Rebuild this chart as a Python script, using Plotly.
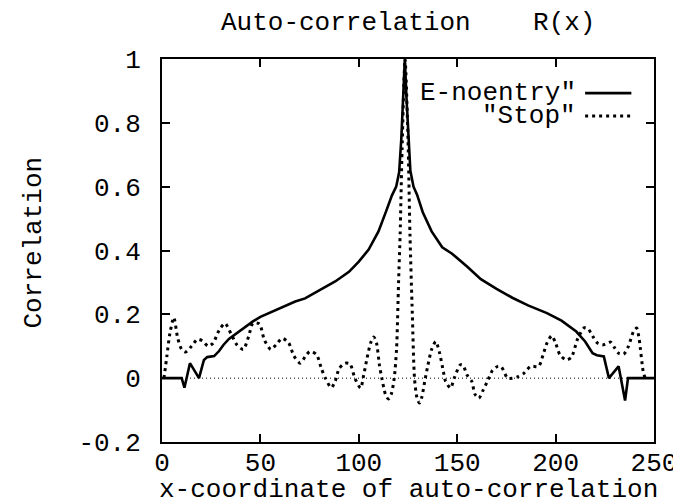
import plotly.graph_objects as go

# ---- data ----
noentry_x = [0, 10, 11.4, 14.2, 18.8, 21.3, 23, 26.5, 29, 31.2, 34, 37.8, 42, 46.2, 50, 54.4, 58,
             62.7, 67.7, 72.7, 80, 88, 95, 100, 105, 110, 114, 116.8, 119, 120.5, 121.6, 122.5,
             123.4, 124.3, 125.2, 126.2, 127.8, 129.6, 132.5, 137, 142.4, 147.4, 155, 162, 170,
             178, 186, 195.6, 203, 210.5, 215, 218.8, 221, 224.5, 227.1, 232, 235.3, 236.8, 250]
noentry_y = [0, 0, -0.03, 0.047, 0.0, 0.057, 0.066, 0.069, 0.085, 0.104, 0.123, 0.141, 0.16, 0.178,
             0.192, 0.204, 0.214, 0.225, 0.24, 0.25, 0.275, 0.303, 0.333, 0.365, 0.403, 0.46, 0.525,
             0.572, 0.6, 0.645, 0.75, 0.87, 1.0, 0.87, 0.75, 0.65, 0.6, 0.575, 0.52, 0.46, 0.41,
             0.39, 0.35, 0.31, 0.28, 0.252, 0.228, 0.204, 0.18, 0.146, 0.115, 0.078, 0.072, 0.068,
             0.0, 0.037, -0.07, 0.0, 0.0]

stop_x = [1, 2.5, 4, 6, 8, 10, 12.1, 15, 18, 20.5, 23.5, 26, 29, 32, 35, 38, 41.3, 44, 46.2, 49.5,
          52, 55.3, 58, 61.1, 64.4, 67, 70.2, 73, 75.2, 78.5, 81, 83, 86, 88, 90, 93, 95.5, 98,
          100.9, 102.5, 104.2, 106, 107.6, 109, 110.5, 111.7, 113.5, 115, 116.5, 118, 119.2,
          120.2, 121, 122, 123.5, 125, 126, 127.2, 128.3, 129.5, 130.8, 132, 133.5, 135, 137,
          139.1, 141, 143, 144.1, 146.6, 148.5, 151.6, 153, 155, 157.4, 159, 161, 163, 165.7,
          168, 170.7, 172.5, 175.6, 178, 181, 184, 187.3, 191.4, 193.5, 195.6, 198, 200, 202.2,
          205.5, 208, 211.3, 214.6, 216.5, 219, 221.3, 223.8, 228, 230, 232, 234.6, 237, 239.5,
          241.2, 242.5, 244.5, 245.5]
stop_y = [0.0, 0.07, 0.14, 0.19, 0.125, 0.09, 0.082, 0.1, 0.122, 0.117, 0.1, 0.11, 0.15, 0.172,
          0.14, 0.105, 0.09, 0.13, 0.172, 0.17, 0.12, 0.09, 0.105, 0.125, 0.11, 0.07, 0.047, 0.07,
          0.084, 0.074, 0.03, 0.0, -0.03, -0.01, 0.03, 0.047, 0.045, 0.0, -0.031, 0.01, 0.063,
          0.11, 0.129, 0.11, 0.04, 0.0, -0.05, -0.065, -0.05, 0.0, 0.094, 0.3, 0.45, 0.72, 1.0,
          0.75, 0.45, 0.2, 0.0, -0.06, -0.078, -0.06, -0.01, 0.037, 0.09, 0.115, 0.08, 0.02,
          -0.01, -0.031, 0.0, 0.042, 0.04, 0.01, -0.01, -0.05, -0.063, -0.04, -0.005, 0.025,
          0.037, 0.035, 0.0, 0.0, 0.005, 0.016, 0.037, 0.037, 0.07, 0.11, 0.133, 0.11, 0.073,
          0.057, 0.065, 0.125, 0.158, 0.155, 0.13, 0.11, 0.104, 0.113, 0.095, 0.078, 0.075, 0.1,
          0.145, 0.157, 0.12, 0.021, 0.0]

x_ticks = [0, 50, 100, 150, 200, 250]
y_ticks = [-0.2, 0, 0.2, 0.4, 0.6, 0.8, 1]
y_tick_text = ["-0.2", "0", "0.2", "0.4", "0.6", "0.8", "1"]
series_names = ['E-noentry"', '"Stop"']

FONT = "Liberation Mono, Courier New, monospace"
FS = 26

fig = go.Figure()
fig.add_trace(go.Scatter(x=noentry_x, y=noentry_y, mode="lines", name=series_names[0],
                         line=dict(color="black", width=2.6), showlegend=False))
fig.add_trace(go.Scatter(x=stop_x, y=stop_y, mode="lines", name=series_names[1],
                         line=dict(color="black", width=3, dash="3px,4px", shape="spline",
                                   smoothing=0.7), showlegend=False))

fig.update_layout(
    width=681, height=500,
    margin=dict(l=154, r=26, t=51, b=66),
    paper_bgcolor="white", plot_bgcolor="white",
    font=dict(family=FONT, size=FS, color="black"),
    xaxis=dict(range=[0, 250], tickvals=x_ticks, ticks="inside", ticklen=8, tickwidth=1.5,
               tickcolor="black", showline=True, linewidth=2, linecolor="black", mirror="ticks",
               showgrid=False, zeroline=False, ticklabelstandoff=-4),
    yaxis=dict(range=[-0.2, 1], tickvals=y_ticks, ticktext=y_tick_text, ticks="inside",
               ticklen=8, tickwidth=1.5, tickcolor="black", showline=True, linewidth=2,
               linecolor="black", mirror="ticks", showgrid=False, zeroline=False,
               ticklabelstandoff=14),
)

# thin dotted zero axis
fig.add_shape(type="line", xref="paper", x0=0, x1=1, yref="y", y0=0, y1=0,
              line=dict(color="black", width=1, dash="1px,3px"))

# titles
fig.add_annotation(text="Auto-correlation    R(x)", xref="paper", yref="paper", x=0.5, y=1,
                   yshift=36, showarrow=False, xanchor="center", yanchor="middle")
fig.add_annotation(text="x-coordinate of auto-correlation", xref="paper", yref="paper",
                   x=0.5, y=0, yshift=-48, showarrow=False, xanchor="center", yanchor="middle")
fig.add_annotation(text="Correlation", xref="paper", yref="paper", x=0, y=0.5, xshift=-129,
                   yshift=8, textangle=-90, showarrow=False, xanchor="center", yanchor="middle")

# gnuplot-style key: text right-aligned, sample to the right
key_rows = [(0.911, "solid"), (0.851, "3px,4px")]
for name, (yy, dash) in zip(series_names, key_rows):
    fig.add_annotation(text=name, xref="paper", yref="paper", x=0.846, y=yy, showarrow=False,
                       xanchor="right", yanchor="middle")
    fig.add_shape(type="line", xref="paper", yref="paper", x0=0.86, x1=0.954, y0=yy, y1=yy,
                  line=dict(color="black", width=2.6 if dash == "solid" else 3, dash=dash))

fig.write_html("out.html")
